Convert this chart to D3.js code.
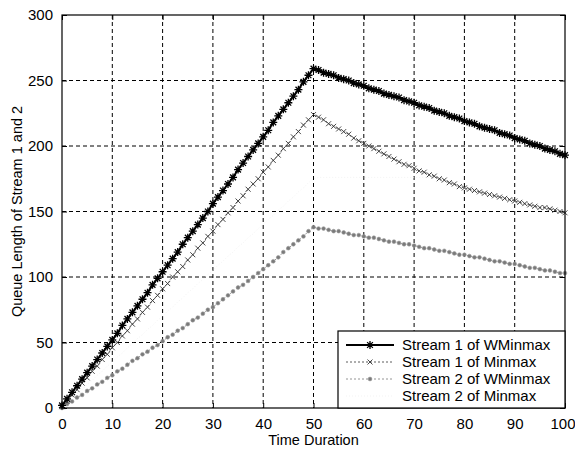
<!DOCTYPE html>
<html>
<head>
<meta charset="utf-8">
<script src="https://cdn.jsdelivr.net/npm/d3@7"></script>
<style>
  body { margin: 0; padding: 0; background: #fff; }
  svg { display: block; font-family: "Liberation Sans", Arial, sans-serif; }
</style>
</head>
<body>
<svg id="chart" width="575" height="451"></svg>
<script>
  // time steps 0..100
  const time = d3.range(0, 101);

  const s1WMinmax = [
    2, 7, 12, 17, 22, 27, 32, 37, 42, 47, 52, 57, 63, 68, 73, 78, 83, 88, 94, 99,
    104, 109, 114, 119, 125, 130, 135, 140, 145, 150, 156, 161, 166, 171, 176, 182, 187, 192, 197, 202,
    207, 212, 218, 223, 228, 233, 238, 243, 249, 254, 259,
    258, 256, 255, 254, 252, 251, 250, 248, 247, 246, 244, 243, 242, 240, 239, 238, 237, 235, 234, 233,
    231, 230, 229, 227, 226, 225, 223, 222, 221, 219, 218, 217, 215, 214, 213, 212, 210, 209, 208, 206,
    205, 204, 202, 201, 200, 198, 197, 196, 194, 193
  ];
  const s1Minmax = [
    1, 5, 10, 14, 19, 23, 28, 32, 37, 41, 46, 50, 55, 59, 64, 68, 73, 77, 82, 86,
    91, 95, 100, 104, 108, 113, 117, 122, 126, 131, 135, 140, 144, 149, 153, 158, 162, 167, 171, 175,
    180, 184, 189, 193, 198, 202, 207, 211, 216, 220, 224,
    222, 220, 217, 215, 213, 211, 209, 206, 204, 202, 200, 198, 196, 194, 192, 190, 188, 186, 185, 183,
    181, 180, 178, 177, 175, 174, 172, 171, 169, 168, 167, 166, 165, 164, 163, 162, 161, 160, 159, 158,
    157, 156, 155, 154, 153, 153, 152, 151, 150, 149
  ];
  const s2WMinmax = [
    0, 3, 5, 8, 10, 13, 15, 18, 20, 23, 25, 28, 30, 33, 36, 38, 41, 43, 46, 48,
    51, 54, 56, 59, 61, 64, 67, 69, 72, 75, 77, 80, 83, 86, 89, 92, 94, 97, 100, 103,
    106, 109, 112, 115, 119, 122, 125, 128, 131, 135, 138,
    137, 137, 136, 135, 135, 134, 133, 132, 132, 131, 130, 130, 129, 128, 127, 127, 126, 125, 125, 124,
    123, 122, 122, 121, 120, 120, 119, 118, 117, 117, 116, 115, 115, 114, 113, 112, 112, 111, 110, 110,
    109, 108, 107, 107, 106, 105, 105, 104, 103, 103
  ];
  // barely visible in the picture
  const s2Minmax = [
    0, 4, 7, 11, 14, 18, 21, 25, 28, 32, 35, 39, 42, 46, 49, 53, 56, 60, 63, 67,
    70, 74, 77, 81, 84, 88, 91, 95, 98, 102, 105, 109, 112, 116, 119, 123, 126, 130, 133, 137,
    140, 144, 147, 151, 154, 158, 161, 165, 168, 172, 175,
    176, 176, 176, 176, 176, 176, 176, 176, 176, 176, 176, 176, 176, 176, 176, 176, 176, 176, 176, 176,
    176, 176, 176, 176, 175, 174, 172, 171, 169, 168, 167, 166, 165, 164, 163, 162, 161, 160, 159, 158,
    157, 156, 155, 154, 153, 152, 152, 151, 150, 149
  ];

  const seriesNames = ['Stream 1 of WMinmax', 'Stream 1 of Minmax', 'Stream 2 of WMinmax', 'Stream 2 of Minmax'];
  const xTicks = [0, 10, 20, 30, 40, 50, 60, 70, 80, 90, 100];
  const yTicks = [0, 50, 100, 150, 200, 250, 300];

  const series = [
    { name: seriesNames[0], values: s1WMinmax, color: '#000', width: 2, dash: null, marker: 'star' },
    { name: seriesNames[1], values: s1Minmax, color: '#333', width: 0.8, dash: '2,2', marker: 'x' },
    { name: seriesNames[2], values: s2WMinmax, color: '#7a7a7a', width: 0.8, dash: '2,2', marker: 'dot' },
    { name: seriesNames[3], values: s2Minmax, color: '#f0f0f0', width: 0.8, dash: '1,2', marker: null }
  ];

  const svg = d3.select('#chart');
  const L = 62, R = 565, T = 15, B = 408;

  const x = d3.scaleLinear().domain([0, 100]).range([L, R]);
  const y = d3.scaleLinear().domain([0, 300]).range([B, T]);

  // grid
  const grid = svg.append('g');
  grid.selectAll('.gx').data(xTicks.slice(1, -1)).enter().append('line')
    .attr('x1', d => x(d)).attr('x2', d => x(d)).attr('y1', T).attr('y2', B)
    .attr('stroke', '#000').attr('stroke-width', 1).attr('stroke-dasharray', '4,3');
  grid.selectAll('.gy').data(yTicks.slice(1, -1)).enter().append('line')
    .attr('x1', L).attr('x2', R).attr('y1', d => y(d)).attr('y2', d => y(d))
    .attr('stroke', '#000').attr('stroke-width', 1).attr('stroke-dasharray', '4,3');

  // axes with inward ticks
  svg.append('g').attr('transform', `translate(0,${B})`)
    .call(d3.axisBottom(x).tickValues(xTicks).tickSizeInner(-5).tickSizeOuter(0).tickPadding(10));
  svg.append('g').attr('transform', `translate(${L},0)`)
    .call(d3.axisLeft(y).tickValues(yTicks).tickSizeInner(-5).tickSizeOuter(0).tickPadding(9));
  svg.append('g').attr('transform', `translate(0,${T})`)
    .call(d3.axisTop(x).tickValues(xTicks).tickSizeInner(-5).tickSizeOuter(0).tickFormat(''));
  svg.append('g').attr('transform', `translate(${R},0)`)
    .call(d3.axisRight(y).tickValues(yTicks).tickSizeInner(-5).tickSizeOuter(0).tickFormat(''));
  svg.selectAll('.domain').remove();
  svg.selectAll('.tick line').attr('stroke', '#000');
  svg.selectAll('.tick text').attr('font-size', 15).attr('fill', '#000')
    .attr('font-family', '"Liberation Sans", Arial, sans-serif');
  // last x label sits against the page edge
  svg.selectAll('.tick text').filter(d => d === 100 && false).attr('dx', 0);
  svg.selectAll('g.tick').filter(function (d) { return d === 100 && this.getAttribute('transform').includes(`,0)`); })
    .select('text').attr('dx', -2.5);

  // lines
  const line = d3.line().x((d, i) => x(time[i])).y(d => y(d));
  const plot = svg.append('g');
  series.slice().reverse().forEach(s => {
    plot.append('path').datum(s.values)
      .attr('d', line).attr('fill', 'none')
      .attr('stroke', s.color).attr('stroke-width', s.width)
      .attr('stroke-dasharray', s.dash);
  });

  function marker(g, type, cx, cy, color) {
    if (type === 'star') {
      const r = 4, q = r * 0.72;
      g.append('path')
        .attr('d', `M${cx - r},${cy}H${cx + r}M${cx},${cy - r}V${cy + r}M${cx - q},${cy - q}L${cx + q},${cy + q}M${cx - q},${cy + q}L${cx + q},${cy - q}`)
        .attr('stroke', color).attr('stroke-width', 1.3).attr('fill', 'none');
    } else if (type === 'x') {
      const q = 2.5;
      g.append('path')
        .attr('d', `M${cx - q},${cy - q}L${cx + q},${cy + q}M${cx - q},${cy + q}L${cx + q},${cy - q}`)
        .attr('stroke', color).attr('stroke-width', 0.9).attr('fill', 'none');
    } else if (type === 'dot') {
      g.append('circle').attr('cx', cx).attr('cy', cy).attr('r', 1.9)
        .attr('fill', color).attr('stroke', '#9a9a9a').attr('stroke-width', 0.6);
    }
  }

  series.slice().reverse().forEach(s => {
    if (!s.marker) return;
    const g = plot.append('g');
    s.values.forEach((v, i) => marker(g, s.marker, x(time[i]), y(v), s.color));
  });

  // frame
  svg.append('rect').attr('x', L).attr('y', T).attr('width', R - L).attr('height', B - T)
    .attr('fill', 'none').attr('stroke', '#000').attr('stroke-width', 1.2);

  // axis labels
  svg.append('text').attr('x', (L + R) / 2).attr('y', 445).attr('text-anchor', 'middle')
    .attr('font-size', 14.5).text('Time Duration');
  svg.append('text').attr('transform', `translate(22,${(T + B) / 2}) rotate(-90)`)
    .attr('text-anchor', 'middle').attr('font-size', 14.5).text('Queue Length of Stream 1 and 2');

  // legend
  const lg = svg.append('g');
  const lx = 338, ly = 331, lw = R - lx, lh = B - ly;
  lg.append('rect').attr('x', lx).attr('y', ly).attr('width', lw).attr('height', lh)
    .attr('fill', '#fff').attr('stroke', '#000').attr('stroke-width', 1.2);
  const rowY = d3.scaleLinear().domain([0, 3]).range([ly + 14, ly + 65]);
  series.forEach((s, i) => {
    const yy = rowY(i);
    lg.append('line').attr('x1', lx + 8).attr('x2', lx + 56).attr('y1', yy).attr('y2', yy)
      .attr('stroke', s.color).attr('stroke-width', s.width).attr('stroke-dasharray', s.dash);
    if (s.marker) marker(lg, s.marker, lx + 32, yy, s.color);
    lg.append('text').attr('x', lx + 64).attr('y', yy + 5).attr('font-size', 15).text(s.name);
  });
</script>
</body>
</html>
